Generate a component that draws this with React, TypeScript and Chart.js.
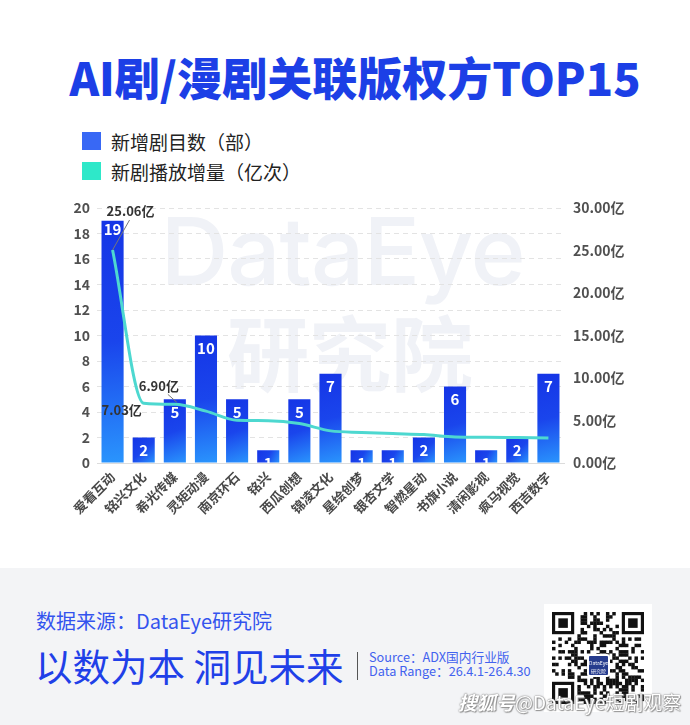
import React, { useEffect, useRef } from "react";
import { Chart, registerables } from "chart.js";

Chart.register(...registerables);

const categories = [
  "爱看互动", "铭兴文化", "希光传媒", "灵矩动漫", "南京环石", "铭兴", "西瓜创想", "锦凌文化",
  "星绘创梦", "银杏文学", "智燃星动", "书旗小说", "清闲影视", "疯马视觉", "西吉数字",
];
const newDramas = [19, 2, 5, 10, 5, 1, 5, 7, 1, 1, 2, 6, 1, 2, 7];
const playGrowth = [25.06, 7.03, 6.9, 6.1, 5.03, 4.98, 4.64, 3.78, 3.6, 3.46, 3.35, 3.07, 3.03, 2.99, 2.95];
const leftTicks = { min: 0, max: 20, step: 2 };
const rightTicks = { min: 0, max: 30, step: 5 };
const labelledPoints = [0, 1, 2];

const CJK = "'Noto Sans CJK SC', 'Noto Sans', sans-serif";

const barLabelPlugin = {
  id: "barLabels",
  afterDatasetsDraw(chart: any) {
    const { ctx, chartArea } = chart;
    const meta = chart.getDatasetMeta(0);
    ctx.save();
    ctx.beginPath();
    ctx.rect(chartArea.left, chartArea.top, chartArea.right - chartArea.left, chartArea.bottom - chartArea.top);
    ctx.clip();
    ctx.fillStyle = "#ffffff";
    ctx.font = `bold 15px ${CJK}`;
    ctx.textAlign = "center";
    ctx.textBaseline = "middle";
    meta.data.forEach((el: any, i: number) => {
      const off = el.y - chartArea.top < 20 ? 9 : 13;
      ctx.fillText(String(newDramas[i]), el.x, el.y + off);
    });
    ctx.restore();
  },
};

const lineLabelPlugin = {
  id: "lineLabels",
  afterDatasetsDraw(chart: any) {
    const { ctx } = chart;
    const meta = chart.getDatasetMeta(1);
    const fmt = (v: number) => v.toFixed(2) + "亿";
    ctx.save();
    ctx.font = `bold 13px ${CJK}`;
    ctx.fillStyle = "#333333";
    ctx.textAlign = "center";
    ctx.textBaseline = "middle";
    ctx.strokeStyle = "#777777";
    ctx.lineWidth = 1;
    labelledPoints.forEach((i) => {
      const p = meta.data[i];
      if (!p) return;
      if (i === 0) {
        ctx.beginPath();
        ctx.moveTo(p.x, p.y);
        ctx.lineTo(p.x + 17, p.y - 30);
        ctx.stroke();
        ctx.fillText(fmt(playGrowth[i]), p.x + 18, p.y - 39);
      } else if (i === 1) {
        ctx.fillText(fmt(playGrowth[i]), p.x - 22, p.y + 7);
      } else {
        ctx.beginPath();
        ctx.moveTo(p.x + 2, p.y - 2);
        ctx.lineTo(p.x - 7, p.y - 10);
        ctx.stroke();
        ctx.fillText(fmt(playGrowth[i]), p.x - 16, p.y - 18);
      }
    });
    ctx.restore();
  },
};

function QR() {
  const ref = useRef<HTMLCanvasElement | null>(null);
  useEffect(() => {
    const c = ref.current;
    if (!c) return;
    const ctx = c.getContext("2d")!;
    const n = 29;
    const m = 92 / n;
    ctx.fillStyle = "#fff";
    ctx.fillRect(0, 0, 92, 92);
    ctx.fillStyle = "#111";
    const finder = (fx: number, fy: number) => {
      ctx.fillRect(fx * m, fy * m, 7 * m, 7 * m);
      ctx.fillStyle = "#fff";
      ctx.fillRect((fx + 1) * m, (fy + 1) * m, 5 * m, 5 * m);
      ctx.fillStyle = "#111";
      ctx.fillRect((fx + 2) * m, (fy + 2) * m, 3 * m, 3 * m);
    };
    for (let i = 0; i < n; i++) {
      for (let j = 0; j < n; j++) {
        const inFinder = (i < 8 && j < 8) || (i > n - 9 && j < 8) || (i < 8 && j > n - 9);
        if (inFinder) continue;
        const h = ((i * 73856093) ^ (j * 19349663) ^ (i * j * 83492791)) >>> 0;
        if (h % 7 < 3) ctx.fillRect(i * m, j * m, m + 0.3, m + 0.3);
      }
    }
    finder(0, 0);
    finder(n - 7, 0);
    finder(0, n - 7);
  }, []);
  return <canvas ref={ref} width={92} height={92} style={{ position: "absolute", left: 8, top: 8, width: 92, height: 92 }} />;
}

export default function App() {
  const canvasRef = useRef<HTMLCanvasElement | null>(null);

  useEffect(() => {
    document.body.style.margin = "0";
    const canvas = canvasRef.current;
    if (!canvas) return;
    const chart = new Chart(canvas, {
      type: "bar",
      data: {
        labels: categories,
        datasets: [
          {
            type: "bar",
            label: "新增剧目数（部）",
            data: newDramas,
            yAxisID: "y",
            order: 2,
            categoryPercentage: 1,
            barPercentage: 0.71,
            backgroundColor: (c: any) => {
              const ch = c.chart;
              if (!ch.chartArea || c.type !== "data") return "#1c45ec";
              const x = ch.scales.x.getPixelForValue(c.dataIndex);
              const top = ch.scales.y.getPixelForValue(c.raw);
              const bottom = ch.scales.y.getPixelForValue(0);
              const g = ch.ctx.createLinearGradient(x - 11, top, x + 11, bottom);
              g.addColorStop(0, "#1535e6");
              g.addColorStop(0.5, "#1a45ec");
              g.addColorStop(1, "#2a95fd");
              return g;
            },
          },
          {
            type: "line",
            label: "新剧播放增量（亿次）",
            data: playGrowth,
            yAxisID: "y1",
            order: 1,
            borderColor: "#4dd8d0",
            borderWidth: 3,
            pointRadius: 0,
            tension: 0.4,
            cubicInterpolationMode: "monotone",
            fill: false,
          } as any,
        ],
      },
      options: {
        responsive: false,
        animation: false,
        layout: { padding: { top: 18, left: 0, right: 0, bottom: 0 } },
        plugins: { legend: { display: false }, tooltip: { enabled: false } },
        scales: {
          x: {
            afterFit: (s: any) => { s.height = 87; },
            grid: { display: true, drawOnChartArea: false, drawTicks: false },
            border: { display: true, color: "#dcdcdc", width: 1 },
            ticks: {
              maxRotation: 45,
              minRotation: 45,
              autoSkip: false,
              padding: 6,
              color: "#484848",
              font: { family: CJK, size: 13, weight: "bold" },
            },
          },
          y: {
            position: "left",
            min: leftTicks.min,
            max: leftTicks.max,
            afterFit: (s: any) => { s.width = 97; },
            ticks: {
              stepSize: leftTicks.step,
              padding: 7,
              color: "#505050",
              font: { family: CJK, size: 14, weight: "bold" },
            },
            grid: { color: "#e3e3e3", drawTicks: false, lineWidth: 1 },
            border: { display: false, dash: [5, 4] },
          },
          y1: {
            position: "right",
            min: rightTicks.min,
            max: rightTicks.max,
            afterFit: (s: any) => { s.width = 126; },
            ticks: {
              stepSize: rightTicks.step,
              padding: 9,
              color: "#505050",
              font: { family: CJK, size: 14, weight: "bold" },
              callback: (v: any) => Number(v).toFixed(2) + "亿",
            },
            grid: { drawOnChartArea: false, drawTicks: false },
            border: { display: false },
          },
        },
      } as any,
      plugins: [barLabelPlugin, lineLabelPlugin],
    });
    return () => chart.destroy();
  }, []);

  return (
    <div style={{ position: "absolute", left: 0, top: 0, width: 690, height: 725, background: "#fff", overflow: "hidden", fontFamily: CJK }}>
      <div style={{ position: "absolute", left: 10, top: 48, width: 690, textAlign: "center", fontSize: 45, fontWeight: 900, color: "#1c3fe6", lineHeight: "58px", letterSpacing: 0, whiteSpace: "nowrap" }}>
        AI剧/漫剧关联版权方TOP15
      </div>
      <div style={{ position: "absolute", left: 82, top: 132, width: 19, height: 18, background: "#3868f5" }} />
      <div style={{ position: "absolute", left: 111, top: 129, fontSize: 19, lineHeight: "26px", color: "#222" }}>新增剧目数（部）</div>
      <div style={{ position: "absolute", left: 82, top: 162, width: 19, height: 18, background: "#2ee8c9" }} />
      <div style={{ position: "absolute", left: 111, top: 159, fontSize: 19, lineHeight: "26px", color: "#222" }}>新剧播放增量（亿次）</div>

      <div style={{ position: "absolute", left: 160, top: 196, width: 365, textAlign: "center", fontFamily: "Inter, 'Noto Sans', sans-serif", fontWeight: 500, fontSize: 94, lineHeight: "110px", color: "#f0f2f7", letterSpacing: -1 }}>
        DataEye
      </div>
      <div style={{ position: "absolute", left: 160, top: 300, width: 380, textAlign: "center", fontWeight: 700, fontSize: 82, lineHeight: "100px", color: "#f0f2f7" }}>
        研究院
      </div>

      <canvas ref={canvasRef} width={690} height={360} style={{ position: "absolute", left: 0, top: 190, width: 690, height: 360 }} />

      <div style={{ position: "absolute", left: 0, top: 568, width: 690, height: 157, background: "#f3f4f6" }}>
        <div style={{ position: "absolute", left: 36, top: 40, fontSize: 20, lineHeight: "26px", color: "#3353ee", whiteSpace: "nowrap" }}>数据来源：DataEye研究院</div>
        <div style={{ position: "absolute", left: 35, top: 74, fontSize: 37.5, lineHeight: "46px", color: "#1f40e8", fontWeight: 400, whiteSpace: "nowrap" }}>以数为本 洞见未来</div>
        <div style={{ position: "absolute", left: 357, top: 84, width: 1, height: 28, background: "#555" }} />
        <div style={{ position: "absolute", left: 369, top: 81, fontSize: 12.7, lineHeight: "16px", color: "#4262ee", whiteSpace: "nowrap" }}>Source：ADX国内行业版</div>
        <div style={{ position: "absolute", left: 369, top: 95, fontSize: 12.7, lineHeight: "16px", color: "#4262ee", whiteSpace: "nowrap" }}>Data Range：26.4.1-26.4.30</div>
        <div style={{ position: "absolute", left: 544, top: 36, width: 108, height: 108, background: "#fff" }}>
          <QR />
          <div style={{ position: "absolute", left: 43, top: 50, width: 23, height: 23, background: "#263c8e", borderRadius: 3, border: "2px solid #fff", color: "#fff", fontSize: 5, lineHeight: "8px", textAlign: "center", paddingTop: 3, boxSizing: "border-box" }}>
            DataEye<br />研究院
          </div>
        </div>
        <div style={{ position: "absolute", left: 458, top: 120, fontSize: 19, lineHeight: "28px", color: "#ffffff", textShadow: "0 0 1px #777, 0 0 2px #888, 1px 1px 1px #999", whiteSpace: "nowrap" }}>
          <span style={{ fontStyle: "italic", fontWeight: 700 }}>搜狐号</span>@DataEye短剧观察
        </div>
      </div>
    </div>
  );
}
